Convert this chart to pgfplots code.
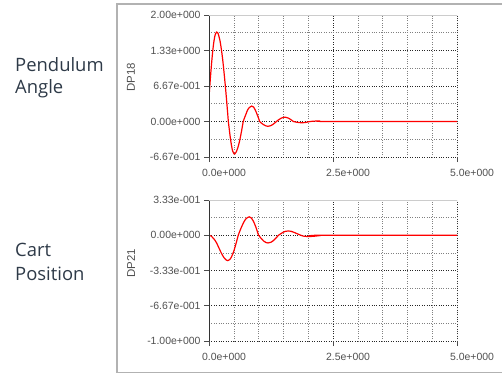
\documentclass[border=0pt]{standalone}
\usepackage{pgfplots}
\pgfplotsset{compat=1.18}
\usepackage{pgfplotstable}
\usepackage{fontspec}
\setmainfont{Liberation Sans}
\newfontfamily\labfont{Open Sans}
\definecolor{lab}{HTML}{2E3A48}
\definecolor{tk}{HTML}{505050}

\pgfplotstableread{
t v
0 0.45
0.025 0.78
0.05 1.07
0.075 1.32
0.1 1.51
0.125 1.63
0.155 1.68
0.18 1.66
0.2 1.60
0.225 1.50
0.25 1.35
0.275 1.17
0.3 0.95
0.325 0.71
0.35 0.45
0.375 0.17
0.39 0
0.4 -0.08
0.425 -0.27
0.45 -0.43
0.475 -0.55
0.5 -0.60
0.51 -0.61
0.525 -0.605
0.55 -0.57
0.575 -0.51
0.6 -0.43
0.625 -0.33
0.65 -0.21
0.675 -0.08
0.69 0
0.725 0.09
0.75 0.15
0.775 0.21
0.8 0.25
0.825 0.27
0.86 0.29
0.9 0.27
0.925 0.23
0.95 0.18
0.975 0.12
1.0 0.06
1.02 0
1.05 -0.025
1.1 -0.06
1.15 -0.084
1.19 -0.09
1.25 -0.077
1.3 -0.047
1.36 0
1.4 0.03
1.45 0.06
1.5 0.078
1.55 0.078
1.6 0.064
1.65 0.036
1.7 0
1.8 -0.018
1.87 -0.025
1.95 -0.018
2.04 0
2.2 0.01
2.4 0
5 0
}\angdata

\pgfplotstableread{
t v
0 0
0.05 -0.01
0.1 -0.035
0.15 -0.07
0.2 -0.12
0.25 -0.17
0.3 -0.21
0.35 -0.235
0.38 -0.24
0.42 -0.229
0.45 -0.208
0.5 -0.15
0.55 -0.07
0.59 0
0.625 0.043
0.65 0.072
0.7 0.123
0.75 0.158
0.81 0.174
0.85 0.165
0.9 0.128
0.95 0.07
1.0 0
1.05 -0.029
1.1 -0.054
1.15 -0.069
1.19 -0.073
1.25 -0.066
1.3 -0.05
1.35 -0.027
1.4 0
1.45 0.015
1.5 0.03
1.55 0.038
1.6 0.04
1.65 0.038
1.7 0.03
1.75 0.02
1.8 0.01
1.85 0
1.9 -0.008
2.0 -0.012
2.1 -0.01
2.2 -0.005
2.3 0
5 0
}\posdata

\pgfplotsset{myax/.style={
  scale only axis, width=248bp,
  xmin=0, xmax=5,
  xtick={0,2.5,5}, xticklabels={0.0e+000,2.5e+000,5.0e+000},
  minor xtick={0.5,1,1.5,2,3,3.5,4,4.5},
  xtick pos=bottom, ytick pos=left, tick align=outside,
  major tick length=5bp, minor tick length=0pt,
  grid=both,
  major grid style={black!85, dotted, line width=0.7bp},
  minor grid style={black!50, dotted, line width=0.6bp},
  axis line style={draw=none},
  tick style={black!70, line width=0.7bp},
  ticklabel style={font=\fontsize{10.5}{11}\selectfont, text=tk},
  xticklabel style={xshift=15bp, yshift=-4bp},
  scaled ticks=false,
}}

\begin{document}
\begin{tikzpicture}[x=1bp,y=1bp]
\useasboundingbox (0,0) rectangle (502,374);
\draw[gray!60, line width=1.5bp] (117,1.5) rectangle (506,370);

\begin{axis}[myax, at={(209bp,217bp)}, anchor=south west, height=142bp,
  ymin=-0.6667, ymax=2,
  ytick={-0.6667,0,0.6667,1.3333,2},
  yticklabels={-6.67e-001,0.00e+000,6.67e-001,1.33e+000,2.00e+000},
  minor ytick={-0.3333,0.3333,1,1.6667}]
\addplot[red, line width=1.2bp, smooth, mark=none] table[x=t,y=v] {\angdata};
\draw[black!80, line width=0.9bp] (rel axis cs:0,0) -- (rel axis cs:0,1);
\draw[gray!40, line width=0.8bp] (rel axis cs:0,1) -- (rel axis cs:1,1);
\draw[gray!60, line width=0.8bp] (rel axis cs:1,0) -- (rel axis cs:1,1);
\end{axis}

\begin{axis}[myax, at={(209bp,33bp)}, anchor=south west, height=141bp,
  ymin=-1, ymax=0.3333,
  ytick={-1,-0.6667,-0.3333,0,0.3333},
  yticklabels={-1.00e+000,-6.67e-001,-3.33e-001,0.00e+000,3.33e-001},
  minor ytick={-0.8333,-0.5,-0.1667,0.1667}]
\addplot[red, line width=1.2bp, smooth, mark=none] table[x=t,y=v] {\posdata};
\draw[black!80, line width=0.9bp] (rel axis cs:0,0) -- (rel axis cs:0,1);
\draw[gray!40, line width=0.8bp] (rel axis cs:0,1) -- (rel axis cs:1,1);
\draw[gray!60, line width=0.8bp] (rel axis cs:1,0) -- (rel axis cs:1,1);
\end{axis}

\node[rotate=90, text=tk, font=\fontsize{11.5}{12}\selectfont] at (131,297) {DP18};
\node[rotate=90, text=tk, font=\fontsize{11.5}{12}\selectfont] at (131,111) {DP21};

\node[anchor=base west, inner sep=0, text=lab, font=\labfont\fontsize{18.5}{20}\selectfont] at (15,302.3) {Pendulum};
\node[anchor=base west, inner sep=0, text=lab, font=\labfont\fontsize{18.5}{20}\selectfont] at (15,280.6) {Angle};
\node[anchor=base west, inner sep=0, text=lab, font=\labfont\fontsize{18.5}{20}\selectfont] at (15,117.3) {Cart};
\node[anchor=base west, inner sep=0, text=lab, font=\labfont\fontsize{18.5}{20}\selectfont] at (15,94) {Position};
\end{tikzpicture}
\end{document}
